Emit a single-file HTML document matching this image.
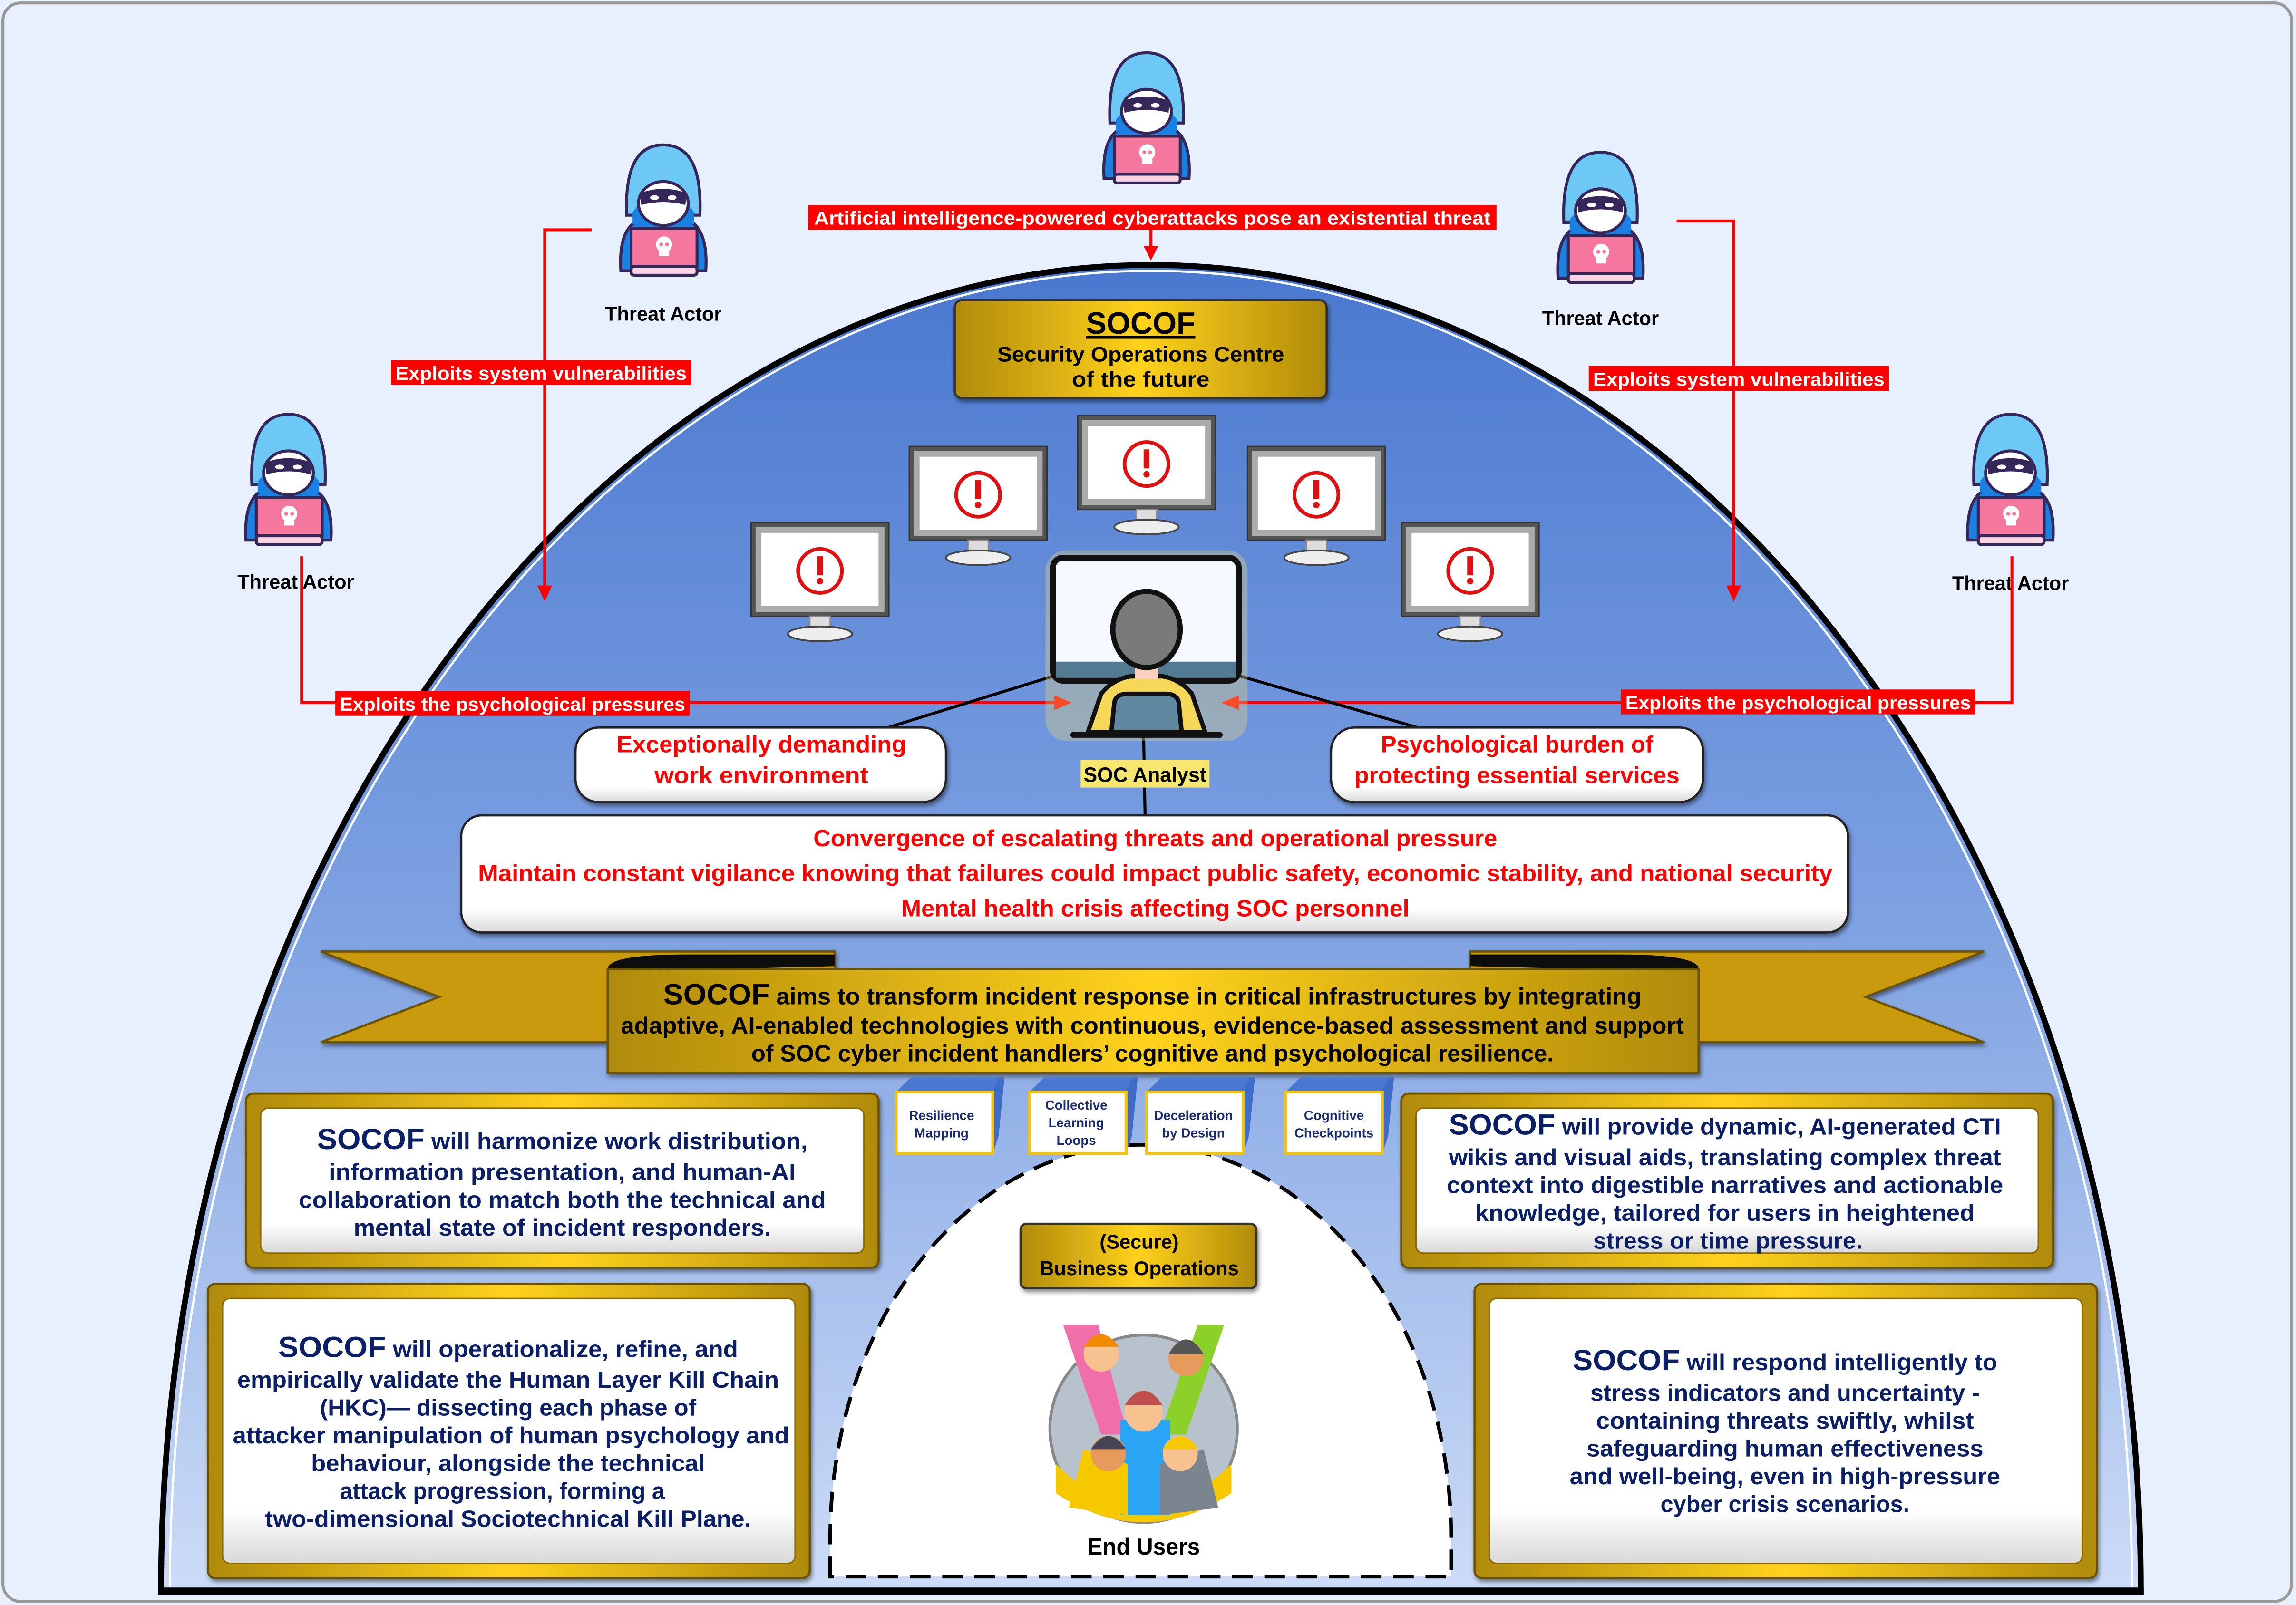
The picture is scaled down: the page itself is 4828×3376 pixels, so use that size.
<!DOCTYPE html>
<html><head><meta charset="utf-8"><style>
html,body{margin:0;padding:0;background:#e8effd}
svg{display:block}
text{font-family:"Liberation Sans",sans-serif;font-weight:bold}
</style></head><body>
<svg width="4828" height="3376" viewBox="0 0 1568 1096.4" xmlns="http://www.w3.org/2000/svg">
<defs>
<linearGradient id="dome" x1="0" y1="0" x2="0" y2="1">
<stop offset="0" stop-color="#4a78d0"/><stop offset="0.5" stop-color="#7fa2e2"/><stop offset="1" stop-color="#cddcf7"/></linearGradient>
<linearGradient id="gold" x1="0" y1="0" x2="1" y2="0">
<stop offset="0" stop-color="#b08a0a"/><stop offset="0.5" stop-color="#ffd21c"/><stop offset="1" stop-color="#b08a0a"/></linearGradient>
<linearGradient id="wb" x1="0" y1="0" x2="0" y2="1">
<stop offset="0" stop-color="#fff"/><stop offset="0.8" stop-color="#fff"/><stop offset="1" stop-color="#d8d8d8"/></linearGradient>
<g id="actor">
<path d="M4 88 Q2 56 20 52 L46 52 Q64 56 62 88 Z" fill="#1a80e2" stroke="#36275a" stroke-width="2"/>
<path d="M8 50 Q6 2 33 2 Q60 2 58 50 Z" fill="#6ec8f6" stroke="#36275a" stroke-width="2"/>
<path d="M12 48 Q33 20 54 48 L54 56 L12 56 Z" fill="#1a80e2"/>
<ellipse cx="33" cy="42" rx="17" ry="15" fill="#fff" stroke="#36275a" stroke-width="2"/>
<path d="M17 35 Q33 29 49 35 L48 43 Q33 39 18 43 Z" fill="#36275a"/>
<ellipse cx="27" cy="38" rx="3" ry="1.6" fill="#fff"/><ellipse cx="39" cy="38" rx="3" ry="1.6" fill="#fff"/>
<rect x="11" y="59" width="45" height="26" fill="#f6779d" stroke="#36275a" stroke-width="2"/>
<rect x="11" y="85" width="45" height="6" rx="2" fill="#fdd5e2" stroke="#36275a" stroke-width="2"/>
<circle cx="33.5" cy="70" r="5.5" fill="#fff"/><rect x="30" y="72" width="7" height="6" fill="#fff"/>
<circle cx="31.5" cy="70" r="1.3" fill="#f6779d"/><circle cx="35.5" cy="70" r="1.3" fill="#f6779d"/>
</g>
<g id="mon">
<rect x="0" y="0" width="94" height="64" fill="#555" stroke="#333"/>
<rect x="3" y="3" width="88" height="58" fill="#aaa"/>
<rect x="7" y="7" width="80" height="50" fill="#fff"/>
<rect x="40" y="64" width="14" height="10" fill="#ddd" stroke="#888"/>
<ellipse cx="47" cy="76" rx="22" ry="5" fill="#eee" stroke="#444" stroke-width="1.2"/>
<circle cx="47" cy="33" r="15" fill="#fff" stroke="#d11" stroke-width="2.5"/>
<rect x="45" y="23" width="4" height="13" fill="#d11"/><circle cx="47" cy="40" r="2.2" fill="#d11"/>
</g>
<g id="cube">
<path d="M0 10 L10 0 L70 0 L70 10 Z" fill="#4a78d0"/>
<path d="M66 10 L70 0 L74 0 L70 40 L66 52 Z" fill="#3f6cc8"/>
<rect x="0" y="10" width="66" height="42" fill="#fff" stroke="#f2c20f" stroke-width="2"/>
</g>
<filter id="sh" x="-5%" y="-5%" width="110%" height="120%"><feDropShadow dx="1" dy="2" stdDeviation="1.5" flood-color="#000" flood-opacity="0.45"/></filter>
</defs>

<rect x="2" y="2" width="1563" height="1092" rx="12" fill="#e8effd" stroke="#999" stroke-width="2"/>

<path d="M110 1087 A676 906 0 0 1 1462 1087 Z" fill="url(#dome)" stroke="#000" stroke-width="4"/>
<path d="M116 1085 A670 900 0 0 1 1456 1085" fill="none" stroke="#fff" stroke-width="1.5"/>
<line x1="108" y1="1087" x2="1464" y2="1087" stroke="#000" stroke-width="5"/>

<path d="M567 1077 L567 1050 A212 268 0 0 1 991 1050 L991 1077 Z" fill="#fff" stroke="#000" stroke-width="2.5" stroke-dasharray="14 8"/>

<use href="#actor" x="750" y="34"/>
<use href="#actor" x="420" y="97"/>
<use href="#actor" x="1060" y="102"/>
<use href="#actor" x="164" y="281"/>
<use href="#actor" x="1340" y="281"/>
<text x="453" y="219" font-size="13.5" text-anchor="middle">Threat Actor</text>
<text x="1093" y="222" font-size="13.5" text-anchor="middle">Threat Actor</text>
<text x="202" y="402" font-size="13.5" text-anchor="middle">Threat Actor</text>
<text x="1373" y="403" font-size="13.5" text-anchor="middle">Threat Actor</text>

<g stroke="#f00" stroke-width="2" fill="none">
<path d="M786 157 L786 172"/>
<path d="M404 157 L372 157 L372 402"/>
<path d="M1145 151 L1184 151 L1184 402"/>
<path d="M206 380 L206 480 L722 480"/>
<path d="M1374 380 L1374 480 L844 480"/>
</g>
<g fill="#f00">
<path d="M781 168 L791 168 L786 178 Z"/>
<path d="M367 400 L377 400 L372 411 Z"/>
<path d="M1179 400 L1189 400 L1184 411 Z"/>
<path d="M720 475 L732 480 L720 485 Z"/>
<path d="M846 475 L834 480 L846 485 Z"/>
</g>
<rect x="552" y="140" width="470" height="17" fill="#f00"/>
<text x="787" y="153.5" font-size="13" fill="#fff" text-anchor="middle" textLength="462" lengthAdjust="spacingAndGlyphs">Artificial intelligence-powered cyberattacks pose an existential threat</text>
<rect x="267" y="246" width="205" height="17" fill="#f00"/>
<text x="369.5" y="259.5" font-size="13" fill="#fff" text-anchor="middle" textLength="199" lengthAdjust="spacingAndGlyphs">Exploits system vulnerabilities</text>
<rect x="1085" y="250" width="205" height="17" fill="#f00"/>
<text x="1187.5" y="263.5" font-size="13" fill="#fff" text-anchor="middle" textLength="199" lengthAdjust="spacingAndGlyphs">Exploits system vulnerabilities</text>
<rect x="229" y="472" width="242" height="17" fill="#f00"/>
<text x="350" y="485.5" font-size="13" fill="#fff" text-anchor="middle" textLength="236" lengthAdjust="spacingAndGlyphs">Exploits the psychological pressures</text>
<rect x="1107" y="471" width="242" height="17" fill="#f00"/>
<text x="1228" y="484.5" font-size="13" fill="#fff" text-anchor="middle" textLength="236" lengthAdjust="spacingAndGlyphs">Exploits the psychological pressures</text>

<rect x="652" y="205" width="254" height="67" rx="5" fill="url(#gold)" stroke="#333" stroke-width="1.5" filter="url(#sh)"/>
<text x="779" y="228" font-size="21" text-anchor="middle" text-decoration="underline">SOCOF</text>
<text x="779" y="247" font-size="14.5" text-anchor="middle" textLength="196" lengthAdjust="spacingAndGlyphs">Security Operations Centre</text>
<text x="779" y="264" font-size="14.5" text-anchor="middle" textLength="94" lengthAdjust="spacingAndGlyphs">of the future</text>

<use href="#mon" x="513" y="357"/>
<use href="#mon" x="621" y="305"/>
<use href="#mon" x="736" y="284"/>
<use href="#mon" x="852" y="305"/>
<use href="#mon" x="957" y="357"/>

<g stroke="#000" stroke-width="2">
<line x1="722" y1="461" x2="600" y2="499"/>
<line x1="844" y1="461" x2="975" y2="499"/>
<line x1="781" y1="502" x2="782" y2="557"/>
</g>

<!-- analyst -->
<rect x="714" y="376" width="138" height="130" rx="14" fill="#e8d77a" opacity="0.35"/>
<rect x="719" y="381" width="127" height="84" rx="7" fill="#f6f9ff" stroke="#111" stroke-width="4"/>
<rect x="721" y="452" width="123" height="11" fill="#527a92"/>
<path d="M743 500 L752 474 Q760 464 772 462 L794 462 Q806 464 814 474 L823 500 Z" fill="#f5d75a" stroke="#111" stroke-width="3"/>
<rect x="775" y="448" width="16" height="16" fill="#f7d0c0"/>
<ellipse cx="783" cy="430" rx="23" ry="26" fill="#7a7a7a" stroke="#111" stroke-width="3.5"/>
<path d="M759 500 L761 480 Q762 474 770 474 L796 474 Q804 474 805 480 L807 500 Z" fill="#5f88a0" stroke="#111" stroke-width="3"/>
<line x1="733" y1="502" x2="833" y2="502" stroke="#111" stroke-width="4" stroke-linecap="round"/>
<rect x="738" y="519" width="88" height="19" fill="#f7e76e"/>
<text x="782" y="534" font-size="14" text-anchor="middle" textLength="84" lengthAdjust="spacingAndGlyphs">SOC Analyst</text>

<rect x="393" y="497" width="253" height="51" rx="16" fill="url(#wb)" stroke="#222" stroke-width="1.5" filter="url(#sh)"/>
<text x="520" y="514" font-size="16" fill="#f00" text-anchor="middle" textLength="198" lengthAdjust="spacingAndGlyphs">Exceptionally demanding</text>
<text x="520" y="535" font-size="16" fill="#f00" text-anchor="middle" textLength="146" lengthAdjust="spacingAndGlyphs">work environment</text>
<rect x="909" y="497" width="254" height="51" rx="16" fill="url(#wb)" stroke="#222" stroke-width="1.5" filter="url(#sh)"/>
<text x="1036" y="514" font-size="16" fill="#f00" text-anchor="middle" textLength="186" lengthAdjust="spacingAndGlyphs">Psychological burden of</text>
<text x="1036" y="535" font-size="16" fill="#f00" text-anchor="middle" textLength="222" lengthAdjust="spacingAndGlyphs">protecting essential services</text>

<rect x="315" y="557" width="947" height="80" rx="14" fill="url(#wb)" stroke="#222" stroke-width="1.5" filter="url(#sh)"/>
<text x="789" y="578" font-size="16" fill="#f00" text-anchor="middle" textLength="467" lengthAdjust="spacingAndGlyphs">Convergence of escalating threats and operational pressure</text>
<text x="789" y="602" font-size="16" fill="#f00" text-anchor="middle" textLength="925" lengthAdjust="spacingAndGlyphs">Maintain constant vigilance knowing that failures could impact public safety, economic stability, and national security</text>
<text x="789" y="626" font-size="16" fill="#f00" text-anchor="middle" textLength="347" lengthAdjust="spacingAndGlyphs">Mental health crisis affecting SOC personnel</text>

<g filter="url(#sh)">
<path d="M219 650 L570 650 L570 712 L219 712 L300 681 Z" fill="#c99a0a" stroke="#6b5200" stroke-width="1.5"/>
<path d="M1355 650 L1004 650 L1004 712 L1355 712 L1274 681 Z" fill="#c99a0a" stroke="#6b5200" stroke-width="1.5"/>
<path d="M415 662 Q415 652 470 652 L570 652 L570 660 L415 664 Z" fill="#111"/>
<path d="M1160 662 Q1160 652 1105 652 L1004 652 L1004 660 L1160 664 Z" fill="#111"/>
<rect x="415" y="662" width="745" height="71" fill="url(#gold)" stroke="#6b5200" stroke-width="1.5"/>
</g>
<text x="787" y="686" font-size="16" text-anchor="middle" textLength="668" lengthAdjust="spacingAndGlyphs"><tspan font-size="20">SOCOF</tspan> aims to transform incident response in critical infrastructures by integrating</text>
<text x="787" y="706" font-size="16" text-anchor="middle" textLength="726" lengthAdjust="spacingAndGlyphs">adaptive, AI-enabled technologies with continuous, evidence-based assessment and support</text>
<text x="787" y="725" font-size="16" text-anchor="middle" textLength="548" lengthAdjust="spacingAndGlyphs">of SOC cyber incident handlers’ cognitive and psychological resilience.</text>

<use href="#cube" x="612" y="736"/>
<use href="#cube" x="703" y="736"/>
<use href="#cube" x="783" y="736"/>
<use href="#cube" x="878" y="736"/>
<g font-size="9" fill="#1a2a6a" text-anchor="middle">
<text x="643" y="765">Resilience</text><text x="643" y="777">Mapping</text>
<text x="735" y="758">Collective</text><text x="735" y="770">Learning</text><text x="735" y="782">Loops</text>
<text x="815" y="765">Deceleration</text><text x="815" y="777">by Design</text>
<text x="911" y="765">Cognitive</text><text x="911" y="777">Checkpoints</text>
</g>

<g filter="url(#sh)">
<rect x="168" y="747" width="432" height="119" rx="5" fill="url(#gold)" stroke="#6b5200" stroke-width="1.5"/>
<rect x="957" y="747" width="445" height="119" rx="5" fill="url(#gold)" stroke="#6b5200" stroke-width="1.5"/>
<rect x="142" y="877" width="411" height="201" rx="5" fill="url(#gold)" stroke="#6b5200" stroke-width="1.5"/>
<rect x="1007" y="877" width="425" height="201" rx="5" fill="url(#gold)" stroke="#6b5200" stroke-width="1.5"/>
</g>
<rect x="178" y="757" width="412" height="99" rx="5" fill="url(#wb)" stroke="#8a6a00"/>
<rect x="967" y="757" width="425" height="99" rx="5" fill="url(#wb)" stroke="#8a6a00"/>
<rect x="152" y="887" width="391" height="181" rx="5" fill="url(#wb)" stroke="#8a6a00"/>
<rect x="1017" y="887" width="405" height="181" rx="5" fill="url(#wb)" stroke="#8a6a00"/>

<g font-size="16" fill="#0b1f66" text-anchor="middle">
<text x="384" y="785" textLength="335" lengthAdjust="spacingAndGlyphs"><tspan font-size="20">SOCOF</tspan> will harmonize work distribution,</text>
<text x="384" y="806" textLength="319" lengthAdjust="spacingAndGlyphs">information presentation, and human-AI</text>
<text x="384" y="825" textLength="360" lengthAdjust="spacingAndGlyphs">collaboration to match both the technical and</text>
<text x="384" y="844" textLength="285" lengthAdjust="spacingAndGlyphs">mental state of incident responders.</text>

<text x="1178" y="775" textLength="377" lengthAdjust="spacingAndGlyphs"><tspan font-size="20">SOCOF</tspan> will provide dynamic, AI-generated CTI</text>
<text x="1178" y="796" textLength="377" lengthAdjust="spacingAndGlyphs">wikis and visual aids, translating complex threat</text>
<text x="1178" y="815" textLength="380" lengthAdjust="spacingAndGlyphs">context into digestible narratives and actionable</text>
<text x="1178" y="834" textLength="341" lengthAdjust="spacingAndGlyphs">knowledge, tailored for users in heightened</text>
<text x="1180" y="853" textLength="184" lengthAdjust="spacingAndGlyphs">stress or time pressure.</text>

<text x="347" y="927" textLength="314" lengthAdjust="spacingAndGlyphs"><tspan font-size="20">SOCOF</tspan> will operationalize, refine, and</text>
<text x="347" y="948" textLength="370" lengthAdjust="spacingAndGlyphs">empirically validate the Human Layer Kill Chain</text>
<text x="347" y="967" textLength="257" lengthAdjust="spacingAndGlyphs">(HKC)— dissecting each phase of</text>
<text x="349" y="986" textLength="380" lengthAdjust="spacingAndGlyphs">attacker manipulation of human psychology and</text>
<text x="347" y="1005" textLength="269" lengthAdjust="spacingAndGlyphs">behaviour, alongside the technical</text>
<text x="343" y="1024" textLength="222" lengthAdjust="spacingAndGlyphs">attack progression, forming a</text>
<text x="347" y="1043" textLength="332" lengthAdjust="spacingAndGlyphs">two-dimensional Sociotechnical Kill Plane.</text>

<text x="1219" y="936" textLength="290" lengthAdjust="spacingAndGlyphs"><tspan font-size="20">SOCOF</tspan> will respond intelligently to</text>
<text x="1219" y="957" textLength="266" lengthAdjust="spacingAndGlyphs">stress indicators and uncertainty -</text>
<text x="1219" y="976" textLength="258" lengthAdjust="spacingAndGlyphs">containing threats swiftly, whilst</text>
<text x="1219" y="995" textLength="271" lengthAdjust="spacingAndGlyphs">safeguarding human effectiveness</text>
<text x="1219" y="1014" textLength="294" lengthAdjust="spacingAndGlyphs">and well-being, even in high-pressure</text>
<text x="1219" y="1033" textLength="170" lengthAdjust="spacingAndGlyphs">cyber crisis scenarios.</text>
</g>

<rect x="697" y="836" width="161" height="44" rx="4" fill="url(#gold)" stroke="#333" stroke-width="1.5" filter="url(#sh)"/>
<text x="778" y="853" font-size="13.5" text-anchor="middle">(Secure)</text>
<text x="778" y="871" font-size="13.5" text-anchor="middle" textLength="136" lengthAdjust="spacingAndGlyphs">Business Operations</text>

<circle cx="781" cy="976" r="64" fill="#b8c2cc" stroke="#888" stroke-width="2"/>
<path d="M721 1000 Q781 1060 841 1000 L841 1020 Q781 1060 721 1020 Z" fill="#f5c800"/>
<path d="M726 905 L752 980 L770 980 L750 905 Z" fill="#f06fa8"/>
<path d="M836 905 L810 980 L792 980 L818 905 Z" fill="#8bd12a"/>
<circle cx="752" cy="925" r="12" fill="#f7c28f"/><path d="M740 920 Q752 903 764 920 Z" fill="#f08a00"/>
<circle cx="810" cy="928" r="12" fill="#e69a5c"/><path d="M798 925 Q810 905 822 925 Z" fill="#555"/>
<rect x="765" y="970" width="34" height="65" fill="#2aa4f4"/>
<circle cx="781" cy="965" r="13" fill="#f7c28f"/><path d="M768 960 Q781 940 794 960 Z" fill="#c0504d"/>
<path d="M730 1030 L740 990 L770 1000 L770 1035 Z" fill="#f5c800"/>
<path d="M832 1030 L822 990 L792 1000 L792 1035 Z" fill="#7a8590"/>
<circle cx="757" cy="993" r="12" fill="#e69a5c"/><path d="M745 990 Q757 972 769 990 Z" fill="#445"/>
<circle cx="806" cy="993" r="12" fill="#f7c28f"/><path d="M794 990 Q806 972 818 990 Z" fill="#f5c800"/>
<text x="781" y="1062" font-size="16" text-anchor="middle" textLength="77" lengthAdjust="spacingAndGlyphs">End Users</text>
</svg>
</body></html>
